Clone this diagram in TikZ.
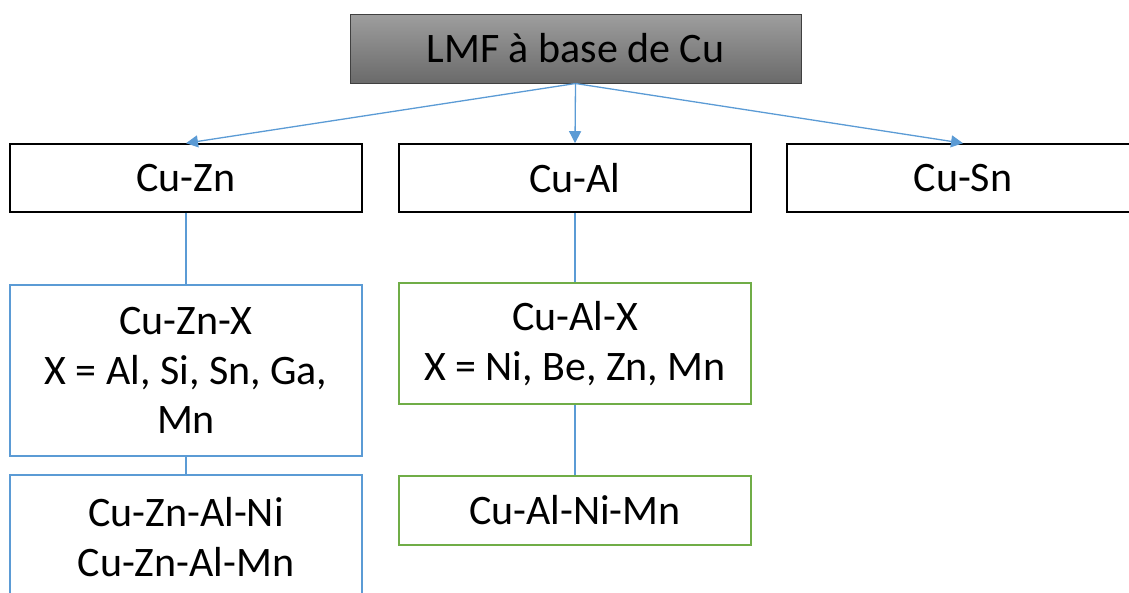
\documentclass[tikz,border=0pt]{standalone}
\usepackage{fontspec}
\setmainfont{Carlito}
\usetikzlibrary{arrows.meta}
\definecolor{linkblue}{RGB}{91,155,213}
\definecolor{boxgreen}{RGB}{112,173,71}
\definecolor{headtop}{RGB}{158,158,158}
\definecolor{headbot}{RGB}{106,106,106}
\definecolor{headrim}{RGB}{64,64,64}
\begin{document}
\begin{tikzpicture}[x=1pt,y=-1pt,
  base/.style={rectangle,inner sep=0pt,align=center,text=black,
    minimum width=352pt,font=\fontsize{42}{49.5}\selectfont},
  headbox/.style={base,draw=headrim,line width=1pt,minimum width=451pt,
    minimum height=69pt,top color=headtop,bottom color=headbot},
  alloybox/.style={base,draw=black,line width=1.6pt,minimum height=68pt},
  bluebox/.style={base,draw=linkblue,line width=2pt},
  greenbox/.style={base,draw=boxgreen,line width=2pt},
  link/.style={draw=linkblue,line width=1.3pt},
  arrowlink/.style={link,-{Triangle[length=12pt,width=12pt]}}]
\useasboundingbox (0,0) rectangle (1129,592);
\clip (0,0) rectangle (1129,592);

% root
\node[headbox] (root) at (575.5,48.5) {LMF à base de Cu};

% first level families
\node[alloybox] (cuzn) at (186,178) {Cu-Zn};
\node[alloybox] (cual) at (575,178) {Cu-Al};
\node[alloybox] (cusn) at (963,178) {Cu-Sn};

% Cu-Zn branch
\node[bluebox,minimum height=171pt] (cuznx) at (186,370.5)
  {Cu-Zn-X\\X = Al, Si, Sn, Ga,\\Mn};
\node[bluebox,minimum height=124pt] (cuznq) at (186,537)
  {Cu-Zn-Al-Ni\\Cu-Zn-Al-Mn};

% Cu-Al branch
\node[greenbox,minimum height=121pt] (cualx) at (575,343.5)
  {Cu-Al-X\\X = Ni, Be, Zn, Mn};
\node[greenbox,minimum height=69pt] (cualq) at (575,510.5)
  {Cu-Al-Ni-Mn};

% connectors
\draw[arrowlink] (root.south) -- (cuzn.north);
\draw[arrowlink] (root.south) -- (cual.north);
\draw[arrowlink] (root.south) -- (cusn.north);
\draw[link] (cuzn.south) -- (cuznx.north);
\draw[link] (cuznx.south) -- (cuznq.north);
\draw[link] (cual.south) -- (cualx.north);
\draw[link] (cualx.south) -- (cualq.north);
\end{tikzpicture}
\end{document}
